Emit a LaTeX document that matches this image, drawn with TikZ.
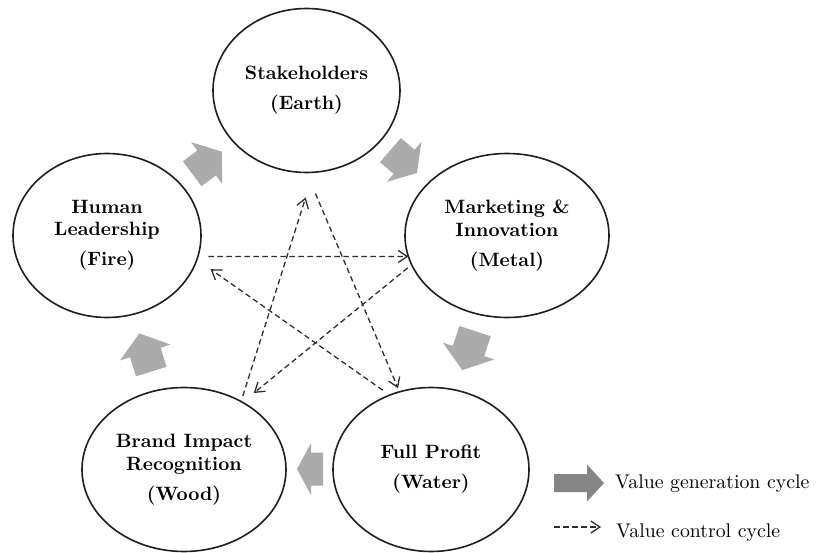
\documentclass[tikz,border=0pt]{standalone}
\usepackage{fontspec}
\setmainfont{lmroman10}[Extension=.otf, UprightFont=*-regular, BoldFont=*-bold]
\usetikzlibrary{shapes.geometric,arrows.meta}
\definecolor{blkfill}{HTML}{ABABAB}
\definecolor{legfill}{HTML}{858585}
\definecolor{inkc}{HTML}{1E1E1E}
\definecolor{dashc}{HTML}{2E2E2E}
\tikzset{
  elli/.style={ellipse, draw=inkc, line width=1.6pt, fill=white, inner sep=0pt, outer sep=0pt,
    align=center, font=\fontsize{19.3}{22.5}\selectfont\bfseries},
  ctrl/.style={draw=dashc, line width=1.3pt, dash pattern=on 5.5pt off 3.5pt,
    -{Straight Barb[length=9pt,width=12pt,line width=1.3pt]}},
  legtext/.style={inner sep=0pt, font=\fontsize{19.8}{23}\selectfont},
  pics/blk/.style n args={5}{code={
    \fill[#5] (-#1/2,-#4/2) -- ({#1/2-#2},-#4/2) -- ({#1/2-#2},-#3/2) -- (#1/2,0)
      -- ({#1/2-#2},#3/2) -- ({#1/2-#2},#4/2) -- (-#1/2,#4/2) -- cycle;
  }}
}
\begin{document}
\begin{tikzpicture}[x=1pt,y=-1pt]
\useasboundingbox (0,0) rectangle (819,553);
% value generation block arrows
\pic[rotate=36.8] at (207,162.7) {blk={37}{19}{52}{31}{blkfill}};
\pic[rotate=-40.9] at (403.7,161.5) {blk={35}{17}{53}{32}{blkfill}};
\pic[rotate=-108.1] at (468.7,350.6) {blk={41}{20}{54}{33}{blkfill}};
\pic[rotate=180] at (310,469) {blk={26}{14}{52}{33}{blkfill}};
\pic[rotate=107.4] at (145.3,352.5) {blk={40}{20}{53}{32}{blkfill}};
% elements
\node[elli, minimum width=187pt, minimum height=164pt] (sk) at (306.5,90.5) {Stakeholders\\[7.5pt](Earth)};
\node[elli, minimum width=188pt, minimum height=164pt] (hl) at (107,235.5) {Human\\Leadership\\[7.5pt](Fire)};
\node[elli, minimum width=204pt, minimum height=164pt] (mi) at (507,235.5) {Marketing \&\\Innovation\\[7.5pt](Metal)};
\node[elli, minimum width=204pt, minimum height=164pt] (br) at (184,469.5) {Brand Impact\\Recognition\\[7.5pt](Wood)};
\node[elli, minimum width=196pt, minimum height=164pt] (fp) at (431,469.5) {Full Profit\\[7.5pt](Water)};
% value control cycle
\draw[ctrl, shorten <=10.4pt] (hl.-13.6) -- (mi.192);
\draw[ctrl, shorten <=22.8pt, shorten >=3.9pt] (sk.-90.6) -- (fp.112.7);
\draw[ctrl, shorten <=8.6pt, shorten >=16.7pt] (fp.119.5) -- (hl.-15.9);
\draw[ctrl, shorten <=5.9pt, shorten >=26.4pt] (br.50.6) -- (sk.-85.8);
\draw[ctrl, shorten <=5.1pt, shorten >=14.7pt] (mi.197.4) -- (br.49.7);
% legend
\pic at (579,483) {blk={50}{17}{37}{18}{legfill}};
\node[legtext, anchor=base west] (lg1t) at (615,488) {Value generation cycle};
\coordinate (lga) at (554,527);
\coordinate (lgb) at (601,527);
\draw[ctrl] (lga) -- (lgb);
\node[legtext, anchor=base west] (lg2t) at (616,537) {Value control cycle};
\end{tikzpicture}
\end{document}
